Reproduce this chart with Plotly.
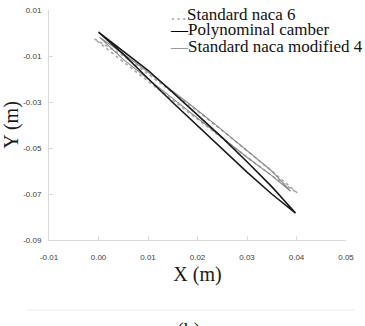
import plotly.graph_objects as go

# ---- data ----
x_ticks = [-0.01, 0.00, 0.01, 0.02, 0.03, 0.04, 0.05]
x_tick_labels = ["-0.01", "0.00", "0.01", "0.02", "0.03", "0.04", "0.05"]
y_ticks = [-0.09, -0.07, -0.05, -0.03, -0.01, 0.01]
y_tick_labels = ["-0.09", "-0.07", "-0.05", "-0.03", "-0.01", "0.01"]

# Polynominal camber: upper surface LE->TE then lower surface TE->LE
poly_x = [0.0000, 0.005, 0.010, 0.015, 0.020, 0.025, 0.030, 0.035, 0.0398,
          0.035, 0.030, 0.025, 0.020, 0.015, 0.010, 0.005, 0.0000]
poly_y = [0.0004, -0.0078, -0.0162, -0.0258, -0.0355, -0.0455, -0.0560, -0.0668, -0.0783,
          -0.0700, -0.0605, -0.0505, -0.0405, -0.0302, -0.0198, -0.0092, 0.0004]

# Standard naca 6
naca6_x = [-0.0008, 0.005, 0.010, 0.015, 0.020, 0.025, 0.030, 0.035, 0.0402,
           0.035, 0.030, 0.025, 0.020, 0.015, 0.010, 0.005, -0.0008]
naca6_y = [-0.0026, -0.0098, -0.0178, -0.0258, -0.0340, -0.0424, -0.0510, -0.0600, -0.0696,
           -0.0620, -0.0540, -0.0458, -0.0375, -0.0292, -0.0210, -0.0125, -0.0026]

# Standard naca modified 4
mod4_x = [0.0002, 0.005, 0.010, 0.015, 0.020, 0.025, 0.030, 0.035, 0.0388,
          0.035, 0.030, 0.025, 0.020, 0.015, 0.010, 0.005, 0.0002]
mod4_y = [-0.0018, -0.0090, -0.0170, -0.0252, -0.0336, -0.0422, -0.0510, -0.0600, -0.0688,
          -0.0620, -0.0540, -0.0455, -0.0370, -0.0285, -0.0200, -0.0115, -0.0018]

# ---- figure ----
W, H = 365, 326
L, R, T, B = 49, 19, 10, 86
pw, ph = W - L - R, H - T - B

def px2paper_x(px):
    return (px - L) / pw

def px2paper_y(py):
    return (H - B - py) / ph

fig = go.Figure()
fig.add_trace(go.Scatter(x=naca6_x, y=naca6_y, mode="lines", name="Standard naca 6",
                         line=dict(color="#ababab", width=1.6, dash="dot")))
fig.add_trace(go.Scatter(x=mod4_x, y=mod4_y, mode="lines", name="Standard naca modified 4",
                         line=dict(color="#8a8a8a", width=1.1)))
fig.add_trace(go.Scatter(x=poly_x, y=poly_y, mode="lines", name="Polynominal camber",
                         line=dict(color="#1a1a1a", width=1.6)))

serif = "Liberation Serif, Times New Roman, serif"
axis_common = dict(showgrid=False, zeroline=False, showline=True, linecolor="#d9d9d9",
                   linewidth=1, ticks="inside", ticklen=4, tickcolor="#d9d9d9",
                   tickfont=dict(family="Liberation Sans, Arial, sans-serif", size=8, color="#404040"))

fig.update_layout(
    width=W, height=H,
    margin=dict(l=L, r=R, t=T, b=B, autoexpand=False),
    paper_bgcolor="white", plot_bgcolor="white",
    showlegend=False,
    xaxis=dict(range=[-0.01, 0.05], tickvals=x_ticks, ticktext=x_tick_labels,
               ticklabelstandoff=9,
               title=dict(text="X (m)", font=dict(family=serif, size=20, color="#1a1a1a"), standoff=6),
               **axis_common),
    yaxis=dict(range=[-0.09, 0.01], tickvals=y_ticks, ticktext=y_tick_labels,
               ticklabelstandoff=5,
               title=dict(text="Y (m)", font=dict(family=serif, size=20, color="#1a1a1a"), standoff=2),
               **axis_common),
)

legend_items = [
    ('<span style="color:#a8a8a8">…</span>Standard naca 6', 14),
    ('<span style="color:#000000">—</span>Polynominal camber', 29.5),
    ('<span style="color:#9a9a9a">—</span>Standard naca modified 4', 47),
]
for txt, py in legend_items:
    fig.add_annotation(text=txt, xref="paper", yref="paper", x=px2paper_x(168), y=px2paper_y(py),
                       xanchor="left", yanchor="middle", showarrow=False,
                       font=dict(family=serif, size=17, color="#111111"))

fig.add_annotation(text="(b)", xref="paper", yref="paper", x=px2paper_x(188.5), y=px2paper_y(317),
                   xanchor="center", yanchor="top", showarrow=False,
                   font=dict(family=serif, size=20, color="#1a1a1a"))

fig.add_shape(type="line", xref="paper", yref="paper",
              x0=px2paper_x(27), x1=px2paper_x(355), y0=px2paper_y(310), y1=px2paper_y(310),
              line=dict(color="#ececec", width=1))

fig.write_html("out.html")
